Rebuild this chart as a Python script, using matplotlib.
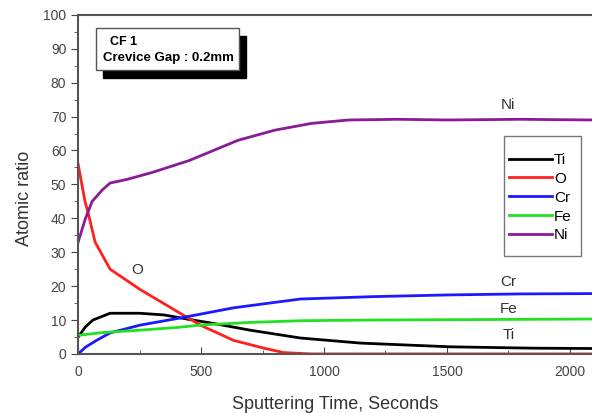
import matplotlib.pyplot as plt
from matplotlib.patches import Rectangle
from matplotlib.ticker import MultipleLocator

plt.rcParams['font.family'] = ['Liberation Sans', 'DejaVu Sans']

# sputtering time (s) and atomic ratio per element
t_ni = [0, 30, 57, 100, 130, 200, 300, 450, 550, 650, 800, 950, 1100, 1300, 1500, 1800, 2090]
ni = [33, 40, 45, 48.5, 50.4, 51.5, 53.5, 57, 60, 63, 66, 68, 69, 69.2, 69, 69.2, 69]

t_o = [0, 15, 28, 41, 69, 130, 252, 415, 497, 632, 750, 836, 950, 1100, 1500, 2090]
o = [56, 50, 45, 41.5, 33, 25, 19, 12, 8.5, 4, 1.8, 0.4, 0, 0, 0, 0]

t_ti = [0, 30, 60, 130, 250, 350, 450, 550, 700, 904, 1148, 1514, 1852, 2090]
ti = [5, 8, 10, 12, 12, 11.5, 10.2, 9, 7, 4.7, 3.2, 2.1, 1.7, 1.6]

t_cr = [0, 30, 77, 130, 252, 415, 632, 904, 1200, 1502, 1800, 2090]
cr = [0, 2, 4.1, 6.2, 8.5, 10.6, 13.6, 16.2, 16.9, 17.4, 17.7, 17.8]

t_fe = [0, 100, 250, 400, 497, 700, 904, 1200, 1500, 1800, 2090]
fe = [5.5, 6.3, 7, 7.8, 8.5, 9.3, 9.8, 10, 10.1, 10.2, 10.3]

fig = plt.figure(figsize=(5.92, 4.13), dpi=100)
ax = fig.add_axes([0.132, 0.143, 0.868, 0.821])

ax.plot(t_ti, ti, color='black', lw=2, label='Ti')
ax.plot(t_o, o, color='#ff2020', lw=2, label='O')
ax.plot(t_cr, cr, color='#1a1aff', lw=2, label='Cr')
ax.plot(t_fe, fe, color='#22e022', lw=2, label='Fe')
ax.plot(t_ni, ni, color='#8a1a9a', lw=2, label='Ni')

ax.set_xlim(0, 2090)
ax.set_ylim(0, 100)
ax.xaxis.set_major_locator(MultipleLocator(500))
ax.xaxis.set_minor_locator(MultipleLocator(250))
ax.yaxis.set_major_locator(MultipleLocator(10))
ax.yaxis.set_minor_locator(MultipleLocator(5))
ax.tick_params(axis='x', which='both', direction='in', labelsize=10, colors='#444444', pad=8)
ax.tick_params(axis='y', which='both', direction='out', labelsize=10, colors='#444444')
ax.tick_params(which='major', length=5)
ax.tick_params(which='minor', length=3)
for s in ['left', 'bottom', 'top']:
    ax.spines[s].set_color('#555555')
    ax.spines[s].set_linewidth(1.5)
ax.spines['right'].set_visible(False)

ax.set_xlabel('Sputtering Time, Seconds', fontsize=13, color='#333333', labelpad=12)
ax.set_ylabel('Atomic ratio', fontsize=13, color='#333333')
ax.yaxis.set_label_coords(-0.088, 0.46)

lab = dict(fontsize=11, ha='center', va='center', color='#333333')
ax.text(1750, 73.5, 'Ni', **lab)
ax.text(1750, 21.2, 'Cr', **lab)
ax.text(1750, 13.3, 'Fe', **lab)
ax.text(1750, 5.6, 'Ti', **lab)
ax.text(240, 24.8, 'O', **lab)

# annotation box with drop shadow
ax.add_patch(Rectangle((101, 81.4), 582, 12.4, facecolor='black', edgecolor='black', zorder=4))
ax.add_patch(Rectangle((73, 83.8), 582, 12.4, facecolor='white', edgecolor='#555555', lw=1, zorder=5))
ax.text(130, 92, 'CF 1', fontsize=9, fontweight='bold', va='center', zorder=6)
ax.text(102, 87.3, 'Crevice Gap : 0.2mm', fontsize=9.5, fontweight='bold', va='center', zorder=6)

# legend frame drawn separately so padding can differ per side
ax.add_patch(Rectangle((0.829, 0.289), 0.150, 0.354, transform=ax.transAxes,
                       facecolor='white', edgecolor='#777777', lw=1, zorder=4))
leg = ax.legend(loc='upper left', bbox_to_anchor=(0.838, 0.593), frameon=False,
                fontsize=11, handlelength=2.8, handletextpad=0.15, borderpad=0,
                borderaxespad=0, labelspacing=0.32)
leg.set_zorder(5)

fig.savefig('out.png', dpi=100)
